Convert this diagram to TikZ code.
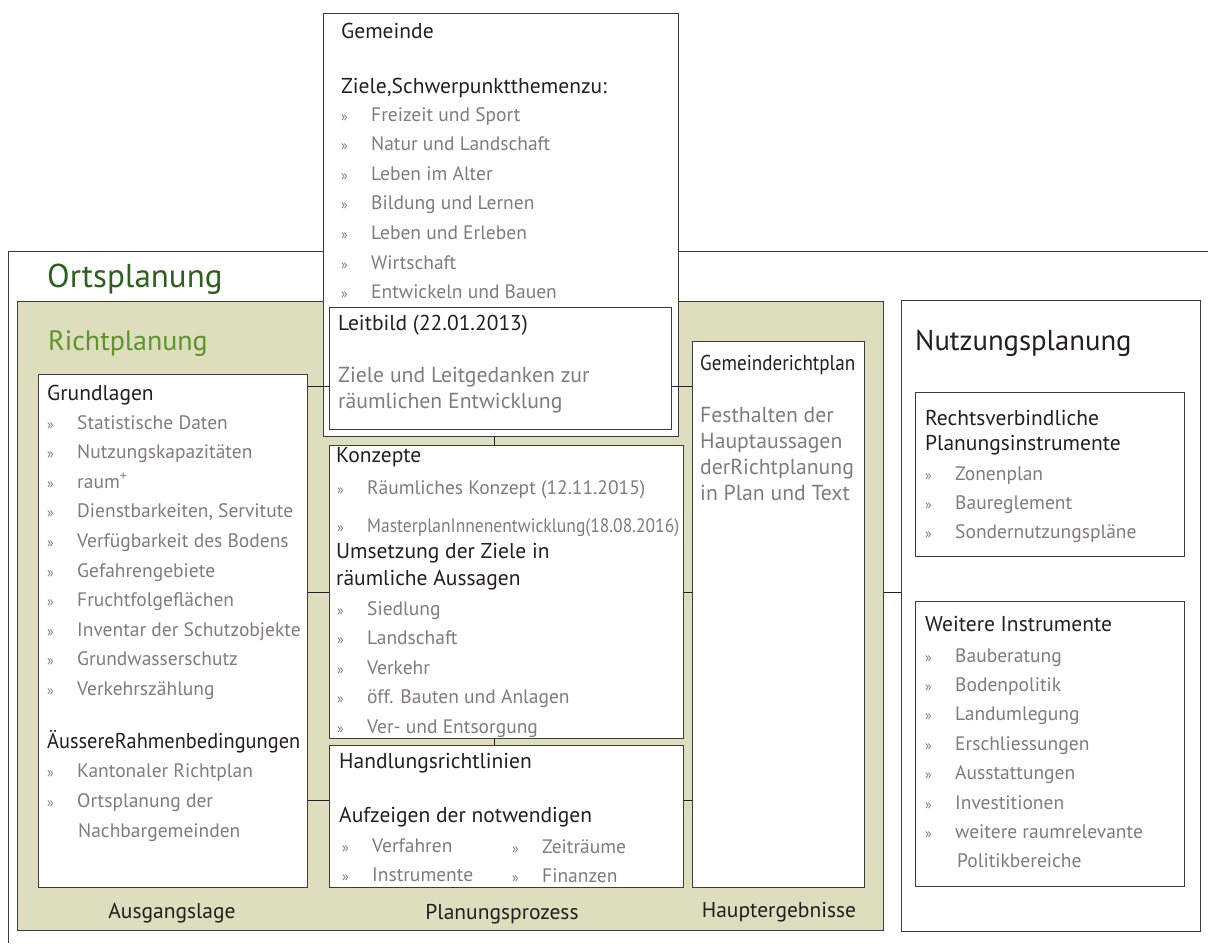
\documentclass[tikz,border=0pt]{standalone}
\usepackage{fontspec}
\setmainfont{PT Sans}
\usepackage{graphicx}
\usetikzlibrary{positioning}

\definecolor{boxline}{RGB}{60,60,60}
\definecolor{richtbg}{RGB}{222,221,190}
\definecolor{ortgreen}{RGB}{45,95,30}
\definecolor{richtgreen}{RGB}{90,150,40}
\definecolor{itemgray}{RGB}{128,124,121}
\definecolor{headblack}{RGB}{35,31,32}

\newcommand{\bul}[1]{\makebox[30pt][l]{\fontsize{14}{14}\selectfont »}#1}

\begin{document}
\begin{tikzpicture}[x=1pt,y=-1pt,
    box/.style={draw=boxline,fill=white,line width=0.9pt,anchor=north west,inner sep=0pt},
    item/.style={anchor=base west,inner sep=0pt,text=itemgray,font=\fontsize{19.5}{23}\selectfont},
    head/.style={anchor=base west,inner sep=0pt,text=headblack,font=\fontsize{21.5}{25}\selectfont},
    body/.style={anchor=base west,inner sep=0pt,text=itemgray,font=\fontsize{21.7}{25}\selectfont},
    link/.style={draw=headblack,line width=0.9pt}]
    \useasboundingbox (0,0) rectangle (1208,943);

    % Ortsplanung frame
    \draw[boxline,line width=0.9pt] (1208,251) -- (8,251) -- (8,943);
    \node[box,fill=richtbg,minimum width=866pt,minimum height=629pt] (richt) at (17,301) {};
    \node[box,minimum width=299pt,minimum height=631pt] (nutzung) at (901,300) {};
    \node[box,minimum width=269pt,minimum height=513pt] (grundlagen) at (38,374) {};
    \node[box,minimum width=355pt,minimum height=423pt] (gemeinde) at (323,13) {};
    \node[box,minimum width=342pt,minimum height=122pt] (leitbild) at (329,307) {};
    \node[box,minimum width=354pt,minimum height=293pt] (konzepte) at (329,445) {};
    \node[box,minimum width=354pt,minimum height=142pt] (handlung) at (329,745) {};
    \node[box,minimum width=172pt,minimum height=546pt] (gemplan) at (692,341) {};
    \node[box,minimum width=269pt,minimum height=164pt] (rechts) at (915,392) {};
    \node[box,minimum width=269pt,minimum height=285pt] (weitere) at (915,601) {};

    % connectors
    \draw[link] (grundlagen.east |- 0,386) -- (leitbild.west |- 0,386);
    \draw[link] (leitbild.east |- 0,386) -- (gemplan.west |- 0,386);
    \draw[link] (grundlagen.east |- 0,592) -- (konzepte.west |- 0,592);
    \draw[link] (konzepte.east |- 0,592) -- (gemplan.west |- 0,592);
    \draw[link] (grundlagen.east |- 0,800) -- (handlung.west |- 0,800);
    \draw[link] (handlung.east |- 0,800) -- (gemplan.west |- 0,800);
    \draw[link] (gemeinde.south -| 494,0) -- (konzepte.north -| 494,0);
    \draw[link] (konzepte.south -| 494,0) -- (handlung.north -| 494,0);
    \draw[link] (richt.east |- 0,592) -- (nutzung.west |- 0,592);

    % titles
    \node[anchor=base west,inner sep=0pt,text=ortgreen,font=\fontsize{33}{37}\selectfont] (t-orts) at (47,287) {Ortsplanung};
    \node[anchor=base west,inner sep=0pt,text=richtgreen,font=\fontsize{28}{32}\selectfont] (t-richt) at (48,350) {Richtplanung};
    \node[anchor=base west,inner sep=0pt,text=headblack,font=\fontsize{28.7}{32}\selectfont] (t-nutz) at (915,350) {Nutzungsplanung};

    % Gemeinde
    \node[head] (gem-h) at (341,38) {Gemeinde};
    \node[head] (gem-z) at (341,93) {Ziele,Schwerpunktthemenzu:};
    \foreach \txt [count=\i from 0] in {Freizeit und Sport,Natur und Landschaft,Leben im Alter,Bildung und Lernen,Leben und Erleben,Wirtschaft,Entwickeln und Bauen}
        \node[item] (gem-\i) at (341,{121+29.6*\i}) {\bul{\txt}};

    % Leitbild
    \node[head] (leit-h) at (338,330) {Leitbild (22.01.2013)};
    \node[body] (leit-1) at (338,382) {Ziele und Leitgedanken zur};
    \node[body] (leit-2) at (338,408) {räumlichen Entwicklung};

    % Grundlagen
    \node[head] (gl-h) at (47,400) {Grundlagen};
    \foreach \txt [count=\i from 0] in {Statistische Daten,Nutzungskapazitäten,raum\textsuperscript{+},{Dienstbarkeiten, Servitute},Verfügbarkeit des Bodens,Gefahrengebiete,Fruchtfolgeflächen,Inventar der Schutzobjekte,Grundwasserschutz,Verkehrszählung}
        \node[item] (gl-\i) at (47,{429+29.6*\i}) {\bul{\txt}};
    \node[head] (ar-h) at (47,748) {\resizebox{253pt}{\height}{ÄussereRahmenbedingungen}};
    \node[item] (ar-0) at (47,777) {\bul{Kantonaler Richtplan}};
    \node[item] (ar-1) at (47,807) {\bul{Ortsplanung der}};
    \node[item] (ar-2) at (78,837) {Nachbargemeinden};

    % Konzepte
    \node[head] (ko-h) at (336,462) {Konzepte};
    \node[item] (ko-0) at (337,494) {\bul{Räumliches Konzept (12.11.2015)}};
    \node[item] (ko-1) at (337,532) {\bul{\resizebox{312pt}{\height}{MasterplanInnenentwicklung(18.08.2016)}}};
    \node[head] (um-h1) at (336,558) {Umsetzung der Ziele in};
    \node[head] (um-h2) at (336,585) {räumliche Aussagen};
    \foreach \txt [count=\i from 0] in {Siedlung,Landschaft,Verkehr,öff. Bauten und Anlagen,Ver- und Entsorgung}
        \node[item] (um-\i) at (337,{615+29.5*\i}) {\bul{\txt}};

    % Handlungsrichtlinien
    \node[head] (ha-h) at (339,768) {Handlungsrichtlinien};
    \node[head] (ha-a) at (339,822) {Aufzeigen der notwendigen};
    \node[item] (ha-0) at (342,852) {\bul{Verfahren}};
    \node[item] (ha-1) at (342,881) {\bul{Instrumente}};
    \node[item] (ha-2) at (512,853) {\bul{Zeiträume}};
    \node[item] (ha-3) at (512,882) {\bul{Finanzen}};

    % Gemeinderichtplan
    \node[head] (gp-h) at (700,370) {\resizebox{155pt}{\height}{Gemeinderichtplan}};
    \foreach \txt [count=\i from 0] in {Festhalten der,Hauptaussagen,derRichtplanung,in Plan und Text}
        \node[body] (gp-\i) at (700,{422+26*\i}) {\txt};

    % Nutzungsplanung
    \node[head] (rv-h1) at (925,425) {Rechtsverbindliche};
    \node[head] (rv-h2) at (925,450) {Planungsinstrumente};
    \foreach \txt [count=\i from 0] in {Zonenplan,Baureglement,Sondernutzungspläne}
        \node[item] (rv-\i) at (925,{480+29*\i}) {\bul{\txt}};
    \node[head] (wi-h) at (925,631) {Weitere Instrumente};
    \foreach \txt [count=\i from 0] in {Bauberatung,Bodenpolitik,Landumlegung,Erschliessungen,Ausstattungen,Investitionen,weitere raumrelevante}
        \node[item] (wi-\i) at (925,{662+29.4*\i}) {\bul{\txt}};
    \node[item] (wi-7) at (957,867) {Politikbereiche};

    % column labels
    \node[head,anchor=base] (lab-aus) at (172,918) {Ausgangslage};
    \node[head,anchor=base] (lab-plan) at (502,919) {Planungsprozess};
    \node[head,anchor=base] (lab-haupt) at (779,917) {Hauptergebnisse};
\end{tikzpicture}
\end{document}
